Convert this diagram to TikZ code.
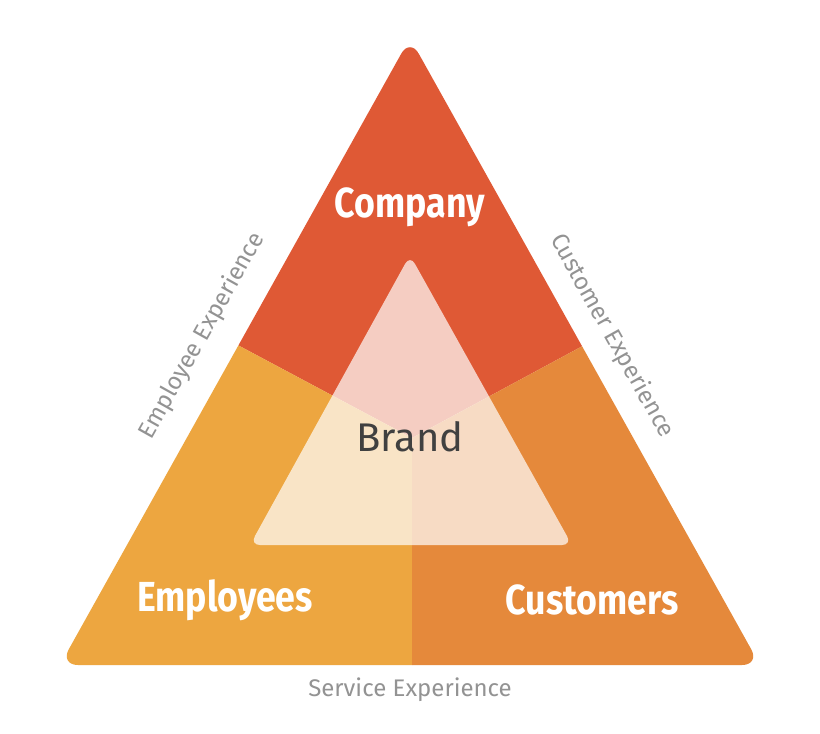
\documentclass[tikz,border=0pt]{standalone}
\usepackage{fontspec}
\setmainfont{Fira Sans}
\newfontfamily\condfont{Fira Sans}
\begin{document}
\begin{tikzpicture}[x=1pt,y=-1pt,
  big/.style={text=white,font=\condfont\fontsize{42}{42}\selectfont\bfseries,xscale=0.85},
  side/.style={text=gray!85,font=\fontsize{24}{24}\selectfont}]
\useasboundingbox[fill=white] (0,0) rectangle (820,734);
\coordinate (A) at (410,38);
\coordinate (L) at (60,665);
\coordinate (R) at (760,665);
\coordinate (M) at (412,438);
\coordinate (P) at (232,342);
\coordinate (Q) at (590,342);
\coordinate (B) at (412,665);
\begin{scope}
\clip[rounded corners=18pt] (A) -- (L) -- (R) -- cycle;
\fill[fill={rgb,255:red,223;green,89;blue,53}] (A) -- (P) -- (M) -- (Q) -- cycle;
\fill[fill={rgb,255:red,237;green,166;blue,64}] (P) -- (M) -- (B) -- (L) -- cycle;
\fill[fill={rgb,255:red,229;green,137;blue,59}] (Q) -- (M) -- (B) -- (R) -- cycle;
\end{scope}
\fill[white,opacity=0.7,rounded corners=10pt] (410,255) -- (250,545) -- (572,545) -- cycle;
\node[big] (company) at (410,207) {Company};
\node[big] (employees) at (225,600) {Employees};
\node[big] (customers) at (592,600) {Customers};
\node[text={rgb,255:red,64;green,64;blue,64},font=\fontsize{40}{40}\selectfont] (brand) at (410,437) {Brand};
\node[side,rotate=60.8] (emp) at (202,336) {Employee Experience};
\node[side,rotate=-60.8] (cus) at (612,336) {Customer Experience};
\node[side] (ser) at (410,690) {Service Experience};
\end{tikzpicture}
\end{document}
